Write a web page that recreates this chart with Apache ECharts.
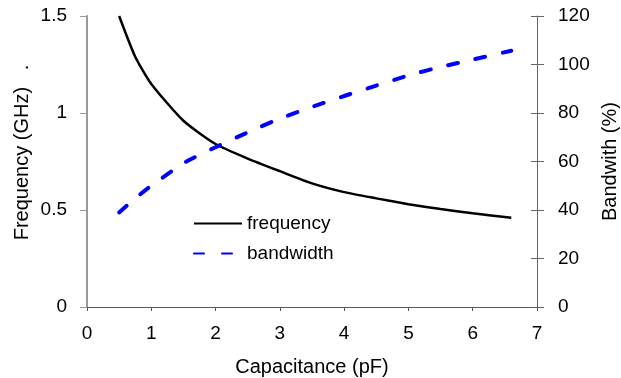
<!DOCTYPE html>
<html>
<head>
<meta charset="utf-8">
<script src="https://cdn.jsdelivr.net/npm/echarts@6/dist/echarts.min.js"></script>
<style>
	html, body { margin: 0; padding: 0; background: #fff; }
	#chart { width: 621px; height: 378px; }
</style>
</head>
<body>
<div id="chart"></div>
<script>
// values
const capacitance = [0.5, 0.75, 1, 1.5, 2, 2.5, 3, 3.5, 4, 4.5, 5, 5.5, 6, 6.6];
const frequency = [1.5, 1.29, 1.15, 0.96, 0.84, 0.765, 0.70, 0.637, 0.592, 0.56, 0.53, 0.505, 0.483, 0.46];
const bandwidth = [39, 44.8, 50, 59.3, 65.9, 72, 77.7, 82.5, 87, 91.3, 95.5, 99, 102, 105.7];
const xTicks = [0, 7, 1];
const freqTicks = [0, 1.5, 0.5];
const bwTicks = [0, 120, 20];

const font = "Liberation Sans, Arial, sans-serif";

function pairs(xs, ys) {
	return xs.map((x, i) => [x, ys[i]]);
}

const chart = echarts.init(document.getElementById("chart"));

const option = {
	animation: false,
	backgroundColor: "#fff",
	textStyle: { fontFamily: font },
	grid: { left: 87, right: 84, top: 16, bottom: 71, outerBoundsMode: "none", containLabel: false },
	legend: {
		orient: "vertical",
		left: 188,
		top: 209,
		itemWidth: 48,
		itemHeight: 14,
		itemGap: 11,
		itemStyle: { opacity: 0 },
		textStyle: { fontSize: 19, color: "#000", fontFamily: font },
		data: ["frequency", "bandwidth"]
	},
	xAxis: {
		type: "value",
		min: xTicks[0],
		max: xTicks[1],
		interval: xTicks[2],
		name: "Capacitance (pF)",
		nameLocation: "middle",
		nameGap: 50,
		nameMoveOverlap: false,
		nameTextStyle: { fontSize: 20, color: "#000" },
		axisLine: { lineStyle: { color: "#555", width: 1 } },
		axisTick: { show: true, length: 4, lineStyle: { color: "#555" } },
		axisLabel: { fontSize: 19, color: "#000", margin: 17 },
		splitLine: { show: false }
	},
	yAxis: [
		{
			type: "value",
			min: freqTicks[0],
			max: freqTicks[1],
			interval: freqTicks[2],
			position: "left",
			name: "Frequency (GHz)   .",
			nameLocation: "middle",
			nameGap: 55,
			nameMoveOverlap: false,
			nameTextStyle: { fontSize: 20, color: "#000", padding: [0, 0, 0, 18] },
			axisLine: { show: true, lineStyle: { color: "#999", width: 2 } },
			axisTick: { show: true, length: 7, lineStyle: { color: "#999" } },
			axisLabel: { fontSize: 19, color: "#000", margin: 20 },
			splitLine: { show: false }
		},
		{
			type: "value",
			min: bwTicks[0],
			max: bwTicks[1],
			interval: bwTicks[2],
			position: "right",
			name: "Bandwith (%)",
			nameLocation: "middle",
			nameGap: 63,
			nameMoveOverlap: false,
			nameTextStyle: { fontSize: 20, color: "#000" },
			axisLine: { show: true, lineStyle: { color: "#666", width: 1 } },
			axisTick: { show: true, length: 7, lineStyle: { color: "#666" } },
			axisLabel: { fontSize: 19, color: "#000", margin: 21 },
			splitLine: { show: false }
		},
		{
			// inner half of the crossing ticks on the right axis
			type: "value",
			min: bwTicks[0],
			max: bwTicks[1],
			interval: bwTicks[2],
			position: "right",
			axisLine: { show: false },
			axisTick: { show: true, inside: true, length: 6, lineStyle: { color: "#666" } },
			axisLabel: { show: false },
			splitLine: { show: false }
		}
	],
	series: [
		{
			name: "frequency",
			type: "line",
			yAxisIndex: 0,
			symbol: "none",
			smooth: 0.2,
			lineStyle: { color: "#000", width: 2.5 },
			itemStyle: { color: "#000" },
			data: pairs(capacitance, frequency)
		},
		{
			name: "bandwidth",
			type: "line",
			yAxisIndex: 1,
			symbol: "none",
			smooth: 0.2,
			lineStyle: { color: "#0000ff", width: 4, type: [10, 18], cap: "round" },
			itemStyle: { color: "#0000ff" },
			data: pairs(capacitance, bandwidth)
		}
	]
};

chart.setOption(option);
</script>
</body>
</html>
